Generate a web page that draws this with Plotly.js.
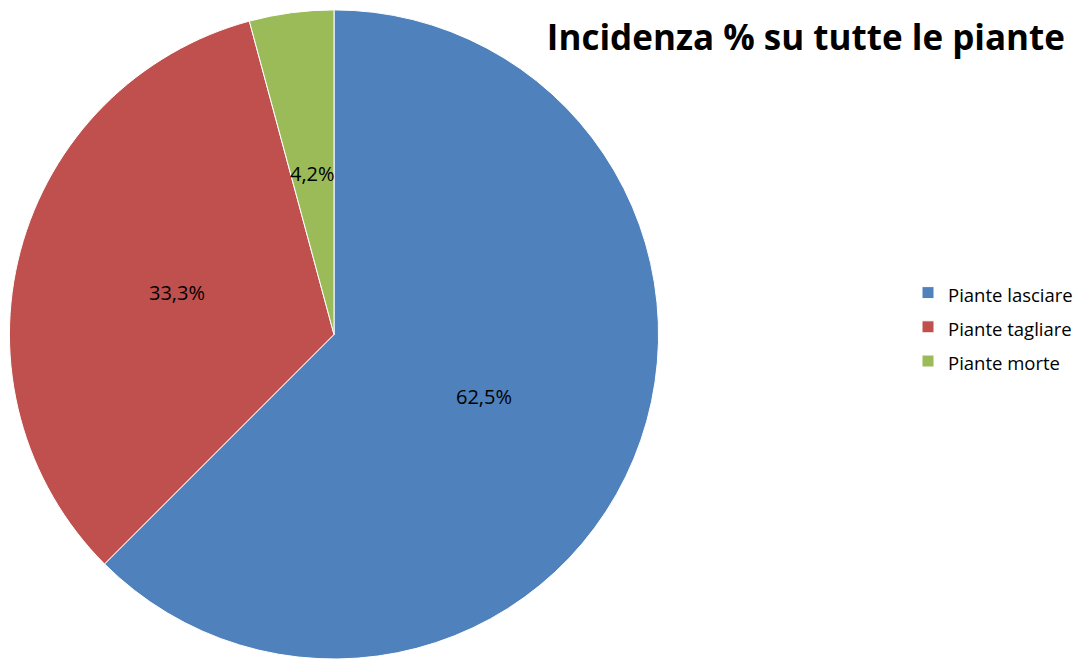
<!DOCTYPE html>
<html>
<head>
<meta charset="utf-8">
<script src="https://cdn.plot.ly/plotly-3.0.1.min.js"></script>
<style>html,body{margin:0;padding:0;background:#fff;}#chart{width:1081px;height:659px;}</style>
</head>
<body>
<div id="chart"></div>
<script>
const categories = ["Piante lasciare", "Piante tagliare", "Piante morte"];
const values = [62.5, 33.3, 4.2];
const colors = ["#4F81BD", "#C0504D", "#9BBB59"];
const chartTitle = "Incidenza % su tutte le piante";

const fontFam = "Open Sans, Noto Sans, sans-serif";
const W = 1081, H = 659;
const dom = {x: [9/W, 659/W], y: [0, 0.985]};

// Data labels placed at half radius on each slice's bisector (computed from values)
const total = values.reduce((a, b) => a + b, 0);
const rPx = Math.min((dom.x[1]-dom.x[0])*W, (dom.y[1]-dom.y[0])*H) / 2;
const cx = (dom.x[0]+dom.x[1])/2, cy = (dom.y[0]+dom.y[1])/2;
let cum = 0;
const annotations = values.map((v) => {
  const mid = (cum + v/2) / total;
  cum += v;
  const th = 2*Math.PI*mid;
  return {
    x: cx + 0.5*rPx*Math.sin(th)/W,
    y: cy + 0.5*rPx*Math.cos(th)/H,
    xref: "paper", yref: "paper",
    text: (v/total*100).toFixed(1).replace(".", ",") + "%",
    showarrow: false,
    xanchor: "center", yanchor: "middle",
    font: {family: fontFam, size: 20, color: "#000000"}
  };
});

const data = [{
  type: "pie",
  labels: categories.map(c => '<span style="font-size:18.5px">' + c + '</span>'),
  values: values,
  sort: false,
  direction: "clockwise",
  rotation: 0,
  marker: {colors: colors, line: {color: "#ffffff", width: 1}},
  textinfo: "none",
  hoverinfo: "label+percent",
  domain: dom
}];

const layout = {
  width: W,
  height: H,
  margin: {l: 0, r: 0, t: 0, b: 0},
  paper_bgcolor: "#ffffff",
  separators: ",.",
  title: {
    text: "<b>" + chartTitle + "</b>",
    font: {family: fontFam, size: 35, color: "#000000"},
    x: 1065/W, xanchor: "right", xref: "paper",
    y: 1 - 38/H, yanchor: "middle", yref: "container"
  },
  annotations: annotations,
  showlegend: true,
  legend: {
    x: 908/W, xanchor: "left",
    y: 1 - 327/H, yanchor: "middle",
    font: {family: fontFam, size: 24, color: "#000000"},
    itemwidth: 30,
    traceorder: "normal"
  }
};

Plotly.newPlot("chart", data, layout, {displayModeBar: false, staticPlot: true});
</script>
</body>
</html>
